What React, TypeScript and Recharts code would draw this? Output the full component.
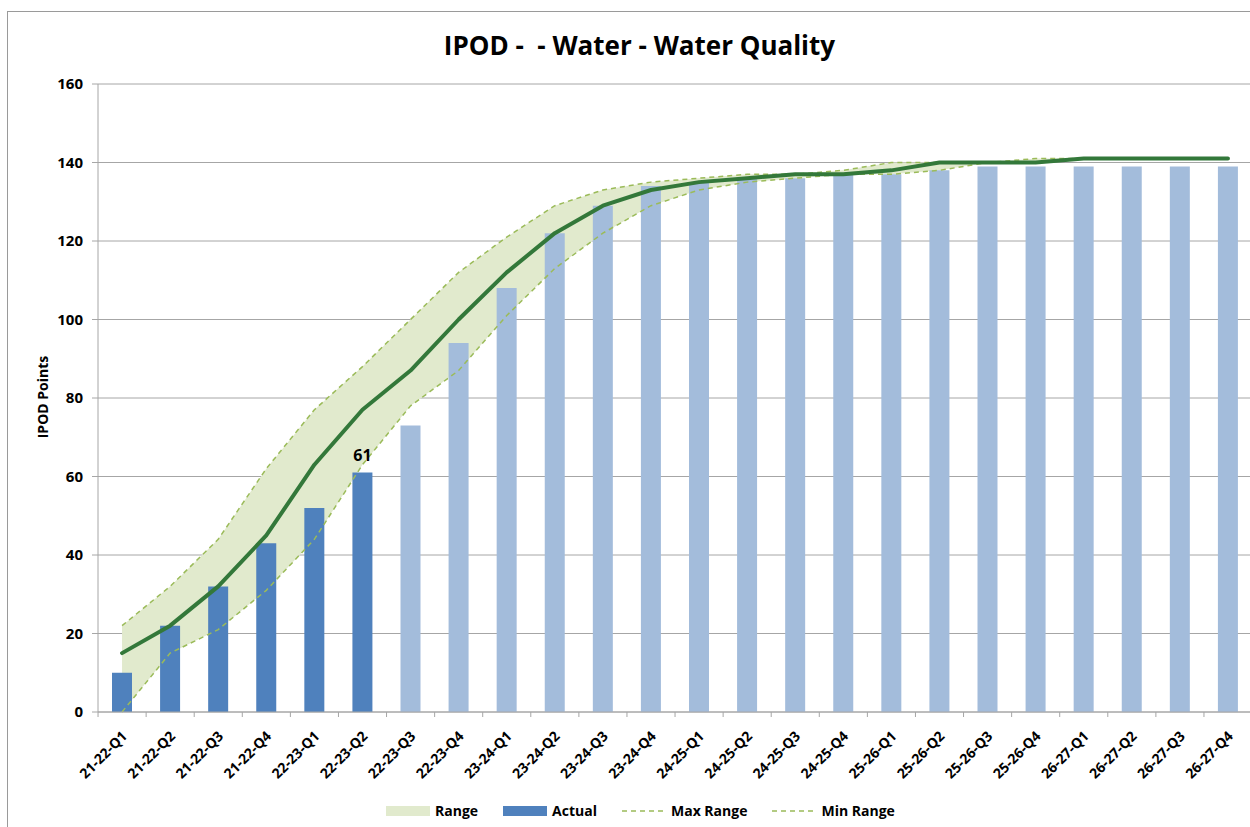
import React from 'react';
import { ComposedChart, Bar, Line, Area, XAxis, YAxis, CartesianGrid, Cell, LabelList } from 'recharts';

const categories = ['21-22-Q1','21-22-Q2','21-22-Q3','21-22-Q4','22-23-Q1','22-23-Q2','22-23-Q3','22-23-Q4','23-24-Q1','23-24-Q2','23-24-Q3','23-24-Q4','24-25-Q1','24-25-Q2','24-25-Q3','24-25-Q4','25-26-Q1','25-26-Q2','25-26-Q3','25-26-Q4','26-27-Q1','26-27-Q2','26-27-Q3','26-27-Q4'];
const actual = [10, 22, 32, 43, 52, 61];
const forecast = [73, 94, 108, 122, 129, 134, 135, 136, 136, 137, 137, 138, 139, 139, 139, 139, 139, 139];
const target = [15, 22, 32, 45, 63, 77, 87, 100, 112, 122, 129, 133, 135, 136, 137, 137, 138, 140, 140, 140, 141, 141, 141, 141];
const maxRange = [22, 32, 44, 62, 77, 88, 100, 112, 121, 129, 133, 135, 136, 137, 137, 138, 140, 140, 140, 141, 141, 141, 141, 141];
const minRange = [0, 15, 21, 31, 44, 63, 78, 87, 101, 113, 122, 129, 133, 135, 136, 137, 137, 138, 140, 140, 141, 141, 141, 141];
const yTicks = [0, 20, 40, 60, 80, 100, 120, 140, 160];

const data = categories.map((c, i) => ({
  name: c,
  bar: i < actual.length ? actual[i] : forecast[i - actual.length],
  isActual: i < actual.length,
  target: target[i],
  max: maxRange[i],
  min: minRange[i],
  range: [minRange[i], maxRange[i]],
}));

const FONT = "'Open Sans', sans-serif";
const ACTUAL = '#4f81bd';
const FORECAST = '#a3bcdb';
const RANGE_FILL = '#e1eacd';
const DASH = '#9bbb59';
const TARGET = '#33783a';
const GRID = '#a6a6a6';

const XTick = (props: any) => {
  const { x, y, payload } = props;
  return (
    <g transform={`translate(${x},${y})`}>
      <line x1={-24} x2={-24} y1={0} y2={5} stroke={GRID} />
      <text
        transform="translate(6,25) rotate(-45)"
        textAnchor="end"
        fontFamily={FONT}
        fontWeight="bold"
        fontSize={14}
        fill="#000"
      >
        {payload.value}
      </text>
    </g>
  );
};

const BarLabel = (props: any) => {
  const { x, y, width, index, value } = props;
  if (index !== actual.length - 1) return null;
  return (
    <text x={x + width / 2} y={y - 12} textAnchor="middle" fontFamily={FONT} fontWeight="bold" fontSize={16} fill="#000">
      {value}
    </text>
  );
};

const legendText: React.CSSProperties = { fontFamily: FONT, fontWeight: 'bold', fontSize: 14, color: '#000', marginLeft: 5, lineHeight: '20px' };

export default function App() {
  return (
    <div style={{ position: 'absolute', left: 7, top: 11, width: 1243, height: 816, overflow: 'hidden', background: '#fff' }}>
      <style>{'html,body{overflow:hidden}'}</style>
      <div style={{ position: 'absolute', left: 0, top: 0, width: 1300, height: 900, border: '1px solid #9a9a9a' }} />
      <div style={{ position: 'absolute', left: 632.5, top: 34, transform: 'translate(-50%,-50%)', fontFamily: FONT, fontWeight: 'bold', fontSize: 26, whiteSpace: 'pre', color: '#000' }}>
        {'IPOD -  - Water - Water Quality'}
      </div>
      <div style={{ position: 'absolute', left: 35, top: 386, transform: 'translate(-50%,-50%) rotate(-90deg)', fontFamily: FONT, fontWeight: 'bold', fontSize: 14, whiteSpace: 'nowrap', color: '#000' }}>
        IPOD Points
      </div>
      <div style={{ position: 'absolute', left: 1, top: 0 }}>
        <ComposedChart width={1244} height={816} data={data} margin={{ top: 73, right: 0, bottom: 25, left: 30 }}>
          <CartesianGrid horizontal={true} vertical={false} stroke={GRID} strokeWidth={1} />
          <XAxis
            dataKey="name"
            height={90}
            interval={0}
            tick={<XTick />}
            tickLine={false}
            tickSize={0}
            tickMargin={0}
            axisLine={{ stroke: GRID }}
          />
          <YAxis
            width={60}
            domain={[0, 160]}
            ticks={yTicks}
            interval={0}
            tickSize={6}
            tickMargin={9}
            tickLine={{ stroke: GRID }}
            axisLine={{ stroke: GRID }}
            tick={{ fontFamily: FONT, fontWeight: 'bold', fontSize: 15, fill: '#000' }}
          />
          <Area dataKey="range" type="linear" stroke="none" fill={RANGE_FILL} fillOpacity={1} isAnimationActive={false} />
          <Bar dataKey="bar" barSize={20} isAnimationActive={false}>
            {data.map((d, i) => (
              <Cell key={i} fill={d.isActual ? ACTUAL : FORECAST} />
            ))}
            <LabelList dataKey="bar" content={<BarLabel />} />
          </Bar>
          <Line dataKey="max" type="linear" stroke={DASH} strokeWidth={1.5} strokeDasharray="5 4" dot={false} isAnimationActive={false} />
          <Line dataKey="min" type="linear" stroke={DASH} strokeWidth={1.5} strokeDasharray="5 4" dot={false} isAnimationActive={false} />
          <Line dataKey="target" type="linear" stroke={TARGET} strokeWidth={4} strokeLinejoin="round" strokeLinecap="round" dot={false} isAnimationActive={false} />
        </ComposedChart>
      </div>
      <div style={{ position: 'absolute', left: 379, top: 790, height: 20, display: 'flex', alignItems: 'center', gap: 25 }}>
        <div style={{ display: 'flex', alignItems: 'center' }}>
          <div style={{ width: 44, height: 10, background: RANGE_FILL }} />
          <span style={legendText}>Range</span>
        </div>
        <div style={{ display: 'flex', alignItems: 'center' }}>
          <div style={{ width: 44, height: 10, background: ACTUAL }} />
          <span style={legendText}>Actual</span>
        </div>
        <div style={{ display: 'flex', alignItems: 'center' }}>
          <svg width={44} height={10}><line x1={0} x2={44} y1={5} y2={5} stroke={DASH} strokeWidth={1.5} strokeDasharray="5 4" /></svg>
          <span style={legendText}>Max Range</span>
        </div>
        <div style={{ display: 'flex', alignItems: 'center' }}>
          <svg width={44} height={10}><line x1={0} x2={44} y1={5} y2={5} stroke={DASH} strokeWidth={1.5} strokeDasharray="5 4" /></svg>
          <span style={legendText}>Min Range</span>
        </div>
      </div>
    </div>
  );
}
